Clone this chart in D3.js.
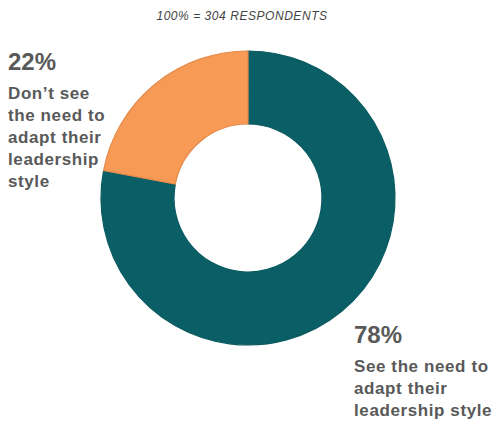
<!DOCTYPE html>
<html>
<head>
<meta charset="utf-8">
<script src="https://cdn.jsdelivr.net/npm/d3@7"></script>
<style>
  body { margin: 0; background: #ffffff; }
  svg text { font-family: "Liberation Sans", Arial, sans-serif; }
</style>
</head>
<body>
<svg id="chart" width="498" height="426"></svg>
<script>
// ----------- DATA ------------
const categories = ["See the need to adapt their leadership style", "Don't see the need to adapt their leadership style"];
const values = [78, 22];
const colors = ["#0a5f66", "#f79a55"];
const strokes = ["#0a5a60", "#e48a4a"];
const title = "100% = 304 RESPONDENTS";
// label lines as they wrap in the picture
const labelLines = [
  ["See the need to", "adapt their", "leadership style"],
  ["Don\u2019t see", "the need to", "adapt their", "leadership", "style"]
];

// ----------- LAYOUT ------------
const svg = d3.select("#chart");
const cx = 248, cy = 198;
const outerR = 147, innerR = 74;
const textColor = "#595959";

svg.append("text")
  .attr("x", 242)
  .attr("y", 20)
  .attr("text-anchor", "middle")
  .attr("font-size", 12)
  .attr("letter-spacing", 0.55)
  .attr("font-style", "italic")
  .attr("fill", "#444")
  .text(title);

// pie goes clockwise from top for the first slice; the 22% slice sits left of 12 o'clock
const pie = d3.pie().sort(null).value(d => d);
const arcs = pie(values);
const arc = d3.arc().innerRadius(innerR).outerRadius(outerR);

const g = svg.append("g").attr("transform", `translate(${cx},${cy})`);
g.selectAll("path")
  .data(arcs)
  .join("path")
  .attr("d", arc)
  .attr("fill", (d, i) => colors[i])
  .attr("stroke", (d, i) => strokes[i])
  .attr("stroke-width", 1.2);

// ----------- LABELS ------------
const labelPos = [
  { x: 354, y: 343 },
  { x: 8, y: 70 }
];

labelPos.forEach((p, i) => {
  const t = svg.append("g");
  t.append("text")
    .attr("x", p.x)
    .attr("y", p.y)
    .attr("font-size", 24)
    .attr("font-weight", "bold")
    .attr("fill", textColor)
    .text(values[i] + "%");
  labelLines[i].forEach((line, j) => {
    t.append("text")
      .attr("x", p.x)
      .attr("y", p.y + 29 + j * 22)
      .attr("font-size", 17)
      .attr("font-weight", "bold")
      .attr("letter-spacing", 0.6)
      .attr("fill", textColor)
      .text(line);
  });
});
</script>
</body>
</html>
